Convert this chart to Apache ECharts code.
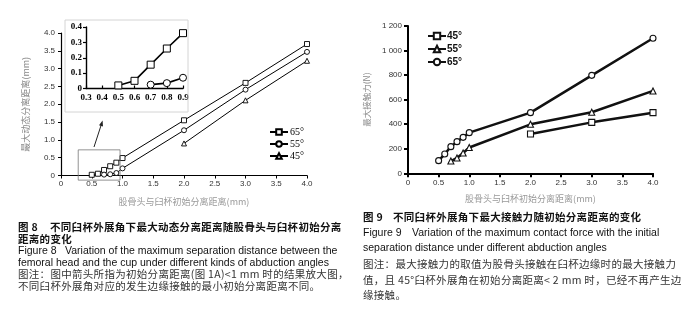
<!DOCTYPE html>
<html>
<head>
<meta charset="utf-8">
<script src="https://cdn.jsdelivr.net/npm/echarts@6/dist/echarts.min.js"></script>
<style>
  body { margin: 0; background: #fff; }
  #wrap { position: relative; width: 696px; height: 328px; overflow: hidden; }
  #left { position: absolute; left: 0; top: 0; width: 348px; height: 328px; }
  #right { position: absolute; left: 348px; top: 0; width: 348px; height: 328px; }
  .cap { position: absolute; white-space: nowrap; font-size: 10.5px; line-height: 12px;
         font-family: "Liberation Sans", Arial, "Noto Sans CJK SC", sans-serif; color: #111; }
  .zh { font-family: "Noto Sans CJK SC", sans-serif; letter-spacing: 0.3px; }
  .b { font-weight: bold; }
  .note { color: #333; }
  .lab { display: inline-block; }
</style>
</head>
<body>
<div id="wrap">
  <div id="left"></div>
  <div id="right"></div>

  <div class="cap zh b" style="left:18px;top:221px"><span class="lab" style="width:32px">图 8</span>不同臼杯外展角下最大动态分离距离随股骨头与臼杯初始分离</div>
  <div class="cap zh b" style="left:18px;top:233px">距离的变化</div>
  <div class="cap" style="left:18px;top:244px"><span class="lab" style="width:47px">Figure 8</span>Variation of the maximum separation distance between the</div>
  <div class="cap" style="left:18px;top:256px">femoral head and the cup under different kinds of abduction angles</div>
  <div class="cap zh note" style="left:18px;top:268px">图注：图中箭头所指为初始分离距离(图 1A)&lt;1 mm 时的结果放大图，</div>
  <div class="cap zh note" style="left:18px;top:280px">不同臼杯外展角对应的发生边缘接触的最小初始分离距离不同。</div>

  <div class="cap zh b" style="left:363px;top:211px"><span class="lab" style="width:30px">图 9</span>不同臼杯外展角下最大接触力随初始分离距离的变化</div>
  <div class="cap" style="left:363px;top:226px"><span class="lab" style="width:49px">Figure 9</span>Variation of the maximum contact force with the initial</div>
  <div class="cap" style="left:363px;top:241px">separation distance under different abduction angles</div>
  <div class="cap zh note" style="left:363px;top:258px">图注：最大接触力的取值为股骨头接触在臼杯边缘时的最大接触力</div>
  <div class="cap zh note" style="left:363px;top:274px">值，且 45°臼杯外展角在初始分离距离&lt; 2 mm 时，已经不再产生边</div>
  <div class="cap zh note" style="left:363px;top:289px">缘接触。</div>
</div>

<script>
// initial separation distance (mm)
var distances = [0.5, 0.6, 0.7, 0.8, 0.9, 1.0, 2.0, 3.0, 4.0];

// Fig 8: maximum dynamic separation distance (mm)
var sep65 = [0.02, 0.05, 0.155, 0.26, 0.36, 0.49, 1.55, 2.6, 3.69];
var sep55 = [null, null, 0.025, 0.035, 0.07, 0.2, 1.27, 2.41, 3.47];
var sep45 = [null, null, null, null, null, null, 0.9, 2.11, 3.22];

// Fig 9: maximum contact force (N)
var force45 = [null, null, null, null, null, null, 320, 415, 494];
var force55 = [null, null, 100, 125, 165, 210, 399, 497, 671];
var force65 = [103, 157, 217, 258, 293, 331, 494, 798, 1100];

var xTicksMain = ['0', '0.5', '1.0', '1.5', '2.0', '2.5', '3.0', '3.5', '4.0'];
var angleNames = ['65°', '55°', '45°'];
var xTitle = '股骨头与臼杯初始分离距离(mm)';

function pairs(vals, maxX) {
    var out = [];
    for (var i = 0; i < distances.length; i++) {
        if (vals[i] == null) continue;
        if (maxX != null && distances[i] > maxX + 1e-9) continue;
        out.push([distances[i], vals[i]]);
    }
    return out;
}

function oneDec(v) {
    return Math.abs(v) < 1e-9 ? '0' : v.toFixed(1);
}

// ---------- Figure 8 ----------
var chartL = echarts.init(document.getElementById('left'));

var mainSeries = function (name, vals, symbol) {
    return {
        name: name, type: 'line', xAxisIndex: 0, yAxisIndex: 0,
        data: pairs(vals), symbol: symbol, symbolSize: 5,
        lineStyle: { color: '#000', width: 1 },
        itemStyle: { color: '#fff', borderColor: '#000', borderWidth: 0.9 },
        z: 3
    };
};
var insetSeries = function (name, vals, symbol) {
    return {
        name: name, type: 'line', xAxisIndex: 1, yAxisIndex: 1,
        data: pairs(vals, 0.9), symbol: symbol, symbolSize: 7,
        lineStyle: { color: '#000', width: 1.6 },
        itemStyle: { color: '#fff', borderColor: '#000', borderWidth: 1 }
    };
};

var axisGray = { color: '#333', fontSize: 8, fontFamily: 'Liberation Sans' };
var serifBold = { color: '#000', fontSize: 9, fontFamily: 'Liberation Serif', fontWeight: 'bold' };

var optionL = {
    animation: false,
    grid: [
        { left: 61, right: 41, top: 33, bottom: 152.5 },
        { left: 86, right: 165, top: 27, bottom: 239.5 }
    ],
    legend: {
        data: angleNames, orient: 'vertical', left: 264, top: 122,
        itemWidth: 18, itemHeight: 7, itemGap: 2,
        textStyle: { fontFamily: 'Liberation Serif', fontSize: 10, color: '#000', padding: [0, 0, 0, -3] }
    },
    xAxis: [
        {
            gridIndex: 0, type: 'value', min: 0, max: 4, interval: 0.5,
            axisLine: { lineStyle: { color: '#000', width: 1.2 } },
            axisTick: { length: 3, lineStyle: { color: '#000' } },
            splitLine: { show: false },
            axisLabel: { margin: 4, formatter: function (v) { return xTicksMain[Math.round(v * 2)]; }, textStyle: axisGray },
            name: xTitle, nameLocation: 'middle', nameGap: 22,
            nameTextStyle: { color: '#999', fontSize: 9, fontFamily: 'Noto Sans CJK SC' }
        },
        {
            gridIndex: 1, type: 'value', min: 0.3, max: 0.9, interval: 0.1,
            axisLine: { lineStyle: { color: '#000', width: 1.4 } },
            axisTick: { inside: true, length: 3, lineStyle: { color: '#000', width: 1.2 } },
            splitLine: { show: false },
            axisLabel: { margin: 5, formatter: oneDec, textStyle: serifBold }
        }
    ],
    yAxis: [
        {
            gridIndex: 0, type: 'value', min: 0, max: 4, interval: 0.5,
            axisLine: { show: true, lineStyle: { color: '#000', width: 1.2 } },
            axisTick: { show: true, length: 3, lineStyle: { color: '#000' } },
            splitLine: { show: false },
            axisLabel: { margin: 6, formatter: oneDec, textStyle: axisGray },
            name: '最大动态分离距离(mm)', nameLocation: 'middle', nameGap: 31,
            nameTextStyle: { color: '#888', fontSize: 9, fontFamily: 'Noto Sans CJK SC' }
        },
        {
            gridIndex: 1, type: 'value', min: 0, max: 0.4, interval: 0.1,
            axisLine: { show: true, lineStyle: { color: '#000', width: 1.4 } },
            axisTick: { show: true, length: 3, lineStyle: { color: '#000', width: 1.2 } },
            splitLine: { show: false },
            axisLabel: { margin: 4, formatter: oneDec, textStyle: serifBold }
        }
    ],
    series: [
        mainSeries('65°', sep65, 'rect'),
        mainSeries('55°', sep55, 'circle'),
        mainSeries('45°', sep45, 'triangle'),
        insetSeries('65° 放大', sep65, 'rect'),
        insetSeries('55° 放大', sep55, 'circle')
    ]
};
chartL.setOption(optionL);

// zoom box, inset frame and arrow
var p1 = chartL.convertToPixel({ gridIndex: 0 }, [0.28, 0.72]);
var p2 = chartL.convertToPixel({ gridIndex: 0 }, [0.96, -0.13]);
chartL.setOption({
    graphic: [
        { type: 'rect', shape: { x: p1[0], y: p1[1], width: p2[0] - p1[0], height: p2[1] - p1[1] },
          style: { fill: null, stroke: '#777', lineWidth: 0.8 }, z: 10 },
        { type: 'rect', shape: { x: 65, y: 20, width: 123, height: 92 },
          style: { fill: null, stroke: '#d4d4d4', lineWidth: 1 }, z: 10 },
        { type: 'line', shape: { x1: 94, y1: 147, x2: 101.5, y2: 124 },
          style: { stroke: '#222', lineWidth: 1 }, z: 10 },
        { type: 'polygon', shape: { points: [[102.6, 120.5], [99, 125.3], [103, 126.5]] },
          style: { fill: '#222' }, z: 10 }
    ]
});

// ---------- Figure 9 ----------
var chartR = echarts.init(document.getElementById('right'));

var forceSeries = function (name, vals, symbol) {
    return {
        name: name, type: 'line', data: pairs(vals), symbol: symbol, symbolSize: 6,
        lineStyle: { color: '#111', width: 2.5 },
        itemStyle: { color: '#fff', borderColor: '#111', borderWidth: 1.1 }
    };
};

var optionR = {
    animation: false,
    grid: { left: 60, right: 43, top: 26, bottom: 154.7 },
    legend: {
        data: ['45°', '55°', '65°'], orient: 'vertical', left: 74, top: 26,
        itemWidth: 18, itemHeight: 8, itemGap: 3,
        textStyle: { fontFamily: 'Liberation Sans', fontWeight: 'bold', fontSize: 10, color: '#111', padding: [0, 0, 0, -4] }
    },
    xAxis: {
        type: 'value', min: 0, max: 4, interval: 0.5,
        axisLine: { lineStyle: { color: '#000', width: 2 } },
        axisTick: { length: 4, lineStyle: { color: '#000', width: 2 } },
        splitLine: { show: false },
        axisLabel: { margin: 5, formatter: function (v) { return xTicksMain[Math.round(v * 2)]; }, textStyle: axisGray },
        name: xTitle, nameLocation: 'middle', nameGap: 21,
        nameTextStyle: { color: '#999', fontSize: 9, fontFamily: 'Noto Sans CJK SC' }
    },
    yAxis: {
        type: 'value', min: 0, max: 1200, interval: 200,
        axisLine: { show: true, lineStyle: { color: '#000', width: 2 } },
        axisTick: { show: true, length: 4, lineStyle: { color: '#000', width: 2 } },
        splitLine: { show: false },
        axisLabel: { margin: 6, textStyle: axisGray,
            formatter: function (v) { return v >= 1000 ? Math.floor(v / 1000) + ' ' + String(v % 1000 + 1000).slice(1) : String(v); } },
        name: '最大接触力(N)', nameLocation: 'middle', nameGap: 32,
        nameTextStyle: { color: '#888', fontSize: 8.5, fontFamily: 'Noto Sans CJK SC' }
    },
    series: [
        forceSeries('45°', force45, 'rect'),
        forceSeries('55°', force55, 'triangle'),
        forceSeries('65°', force65, 'circle')
    ]
};
chartR.setOption(optionR);
</script>
</body>
</html>
